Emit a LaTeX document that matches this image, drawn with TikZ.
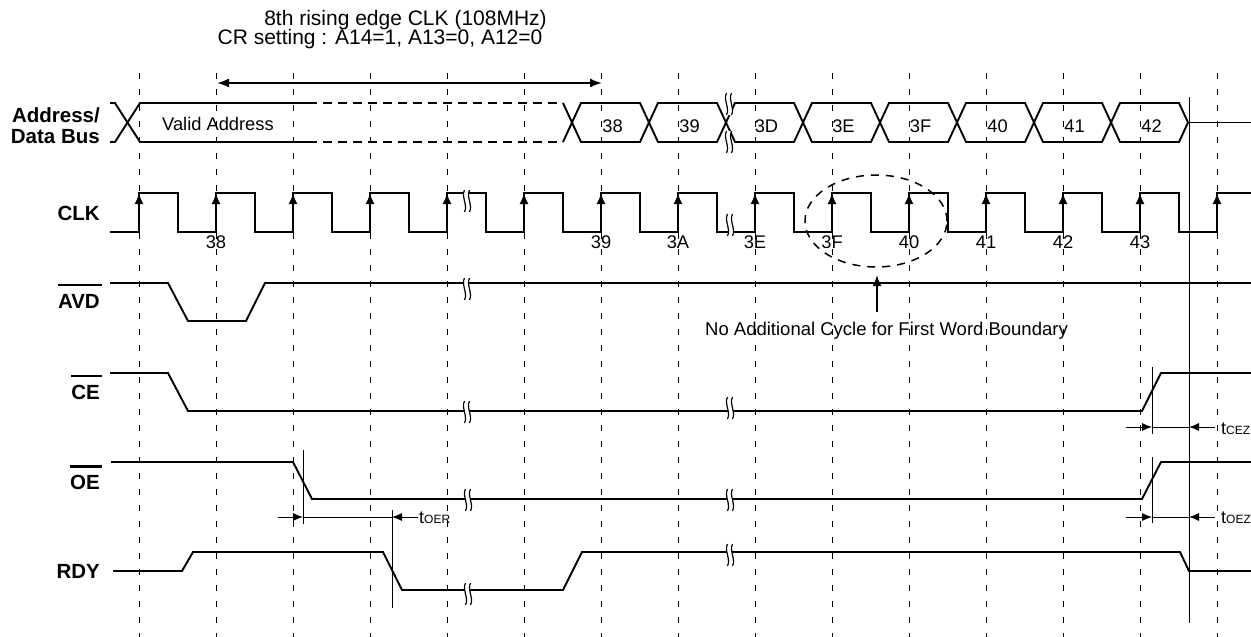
\documentclass[tikz,border=0pt]{standalone}
\usepackage{fontspec}
\setmainfont{Liberation Sans}
\usetikzlibrary{arrows.meta}
\tikzset{
  wave/.style={line width=1.9pt, line join=miter},
  gridln/.style={line width=0.9pt, dash pattern=on 6pt off 10pt},
  thinln/.style={line width=0.9pt},
  lbl/.style={font=\fontsize{20.5}{22}\selectfont\bfseries, inner sep=0pt, anchor=base east},
  val/.style={font=\fontsize{18.3}{20}\selectfont, inner sep=0pt, anchor=base},
  ttl/.style={font=\fontsize{21}{22}\selectfont, inner sep=0pt, anchor=base},
  tlab/.style={inner sep=0pt, anchor=base west},
  ovl/.style={line width=2.2pt},
  ltip/.style={-{Latex[length=10pt,width=8pt]}},
  rtip/.style={{Latex[length=10pt,width=8pt]}-},
  brk/.pic={
    \fill[white] (-2.5,-11) .. controls (-6,-4) and (1,4) .. (-2.5,11) -- (2.5,11) .. controls (6,4) and (-1,-4) .. (2.5,-11) -- cycle;
    \draw[line width=1.2pt] (-2.5,-11) .. controls (-6,-4) and (1,4) .. (-2.5,11);
    \draw[line width=1.2pt] (2.5,-11) .. controls (-1,-4) and (6,4) .. (2.5,11);
  }
}
\newcommand{\tsub}[2]{{\fontsize{18}{18}\selectfont #1}{\fontsize{12}{12}\selectfont #2}}
\begin{document}
\begin{tikzpicture}[x=1pt,y=-1pt]
\useasboundingbox (0,0) rectangle (1251,637);

% grid
\foreach \i in {0,...,14} \draw[gridln] ({139+77*\i},73) -- ({139+77*\i},637);

% title
\node[ttl] (t1) at (405.5,25) {8th rising edge CLK (108MHz)};
\node[ttl] (t2) at (380,45) {CR setting : A14=1, A13=0, A12=0};
\draw[wave, {Latex[length=12pt,width=9pt]}-{Latex[length=12pt,width=9pt]}] (217,83) -- (602,83);

% signal labels
\node[lbl] (ad1) at (100,122) {Address/};
\node[lbl] (ad2) at (100,143) {Data Bus};
\node[lbl] (clk) at (100,220) {CLK};
\node[lbl] (avd) at (100,308) {AVD};
\node[lbl] (ce) at (100,399) {CE};
\node[lbl] (oe) at (100,489) {OE};
\node[lbl] (rdy) at (100,578) {RDY};
\draw[ovl] ([yshift=8.3pt]avd.north west) -- ([yshift=8.3pt,xshift=2pt]avd.north east);
\draw[ovl] ([yshift=8.3pt]ce.north west) -- ([yshift=8.3pt,xshift=2pt]ce.north east);
\draw[ovl] ([yshift=8pt]oe.north west) -- ([yshift=8pt,xshift=2pt]oe.north east);

% bus
\draw[wave] (110,103) -- (115,103) -- (127.5,122.5) -- (140,142) -- (308,142);
\draw[wave] (110,142) -- (115,142) -- (127.5,122.5) -- (140,103) -- (308,103);
\draw[wave, dash pattern=on 9pt off 6pt] (308,103) -- (563,103);
\draw[wave, dash pattern=on 9pt off 6pt] (308,142) -- (563,142);
\draw[wave] (563,103) -- (572,122.5) -- (563,142);
\node[val, anchor=base west] (va) at (162,130) {Valid Address};
\foreach \k/\t in {0/38,1/39,2/3D,3/3E,4/3F,5/40,6/41,7/42} {
  \pgfmathsetmacro\ca{572+77*\k}
  \pgfmathsetmacro\cb{649+77*\k}
  \draw[wave] (\ca,122.5) -- ({\ca+9},103) -- ({\cb-9},103) -- (\cb,122.5) -- ({\cb-9},142) -- ({\ca+9},142) -- cycle;
  \node[val] (b\t) at ({\ca+40.5},132) {\t};
}
\draw[wave] (1188,122.5) -- (1251,122.5);
\pic at (729,104) {brk};
\pic at (729,142) {brk};

% CLK
\draw[wave] (110,232) foreach \i in {0,...,13} { -- ({139+77*\i},232) -- ({139+77*\i},193) -- ({178+77*\i},193) -- ({178+77*\i},232) } -- (1217,232) -- (1217,193) -- (1251,193);
\foreach \i in {0,...,14} \draw[wave, -{Latex[length=11pt,width=9pt]}] ({139+77*\i},214) -- ({139+77*\i},193);
\foreach \i/\t in {1/38,6/39,7/3A,8/3E,9/3F,10/40,11/41,12/42,13/43} \node[val] (c\t) at ({139+77*\i},248) {\t};
\pic at (467,201) {brk};
\pic at (730,225) {brk};

% circle + note
\draw[line width=1.5pt, dash pattern=on 8pt off 7pt] (876,221) ellipse [x radius=71pt, y radius=46pt];
\draw[wave, -{Latex[length=11pt,width=9pt]}] (877,312) -- (877,275);
\node[val, anchor=base west, font=\fontsize{18.5}{20}\selectfont] (note) at (705,335) {No Additional Cycle for First Word Boundary};

% AVD
\draw[wave] (110,283) -- (168,283) -- (188,321) -- (246,321) -- (265,283) -- (1251,283);
\pic at (467,289) {brk};

% CE
\draw[wave] (110,373) -- (168,373) -- (188,411) -- (1142,411) -- (1161,373) -- (1251,373);
\pic at (467,412) {brk};
\pic at (730,408) {brk};

% OE
\draw[wave] (111,462) -- (293,462) -- (312,499) -- (1142,499) -- (1161,462) -- (1251,462);
\pic at (468,500) {brk};
\pic at (730,500) {brk};

% RDY
\draw[wave] (113,571) -- (182,571) -- (193,552) -- (383,552) -- (402,590) -- (563,590) -- (582,552) -- (1180,552) -- (1189,571) -- (1251,571);
\pic at (468,594) {brk};
\pic at (730,555) {brk};

% timing lines
\draw[thinln] (1189,97) -- (1189,623);
\draw[thinln] (303,450) -- (303,524);
\draw[thinln] (392,510) -- (392,608);
\draw[thinln, ltip] (278,517) -- (303,517);
\draw[thinln] (303,517) -- (392,517);
\draw[thinln, rtip] (392,517) -- (418,517);
\node[tlab] (toer) at (419,523) {\tsub{t}{OER}};

\draw[thinln] (1152,367) -- (1152,434);
\draw[thinln, ltip] (1126,427) -- (1152,427);
\draw[thinln] (1152,427) -- (1189,427);
\draw[thinln, rtip] (1189,427) -- (1215,427);
\node[tlab] (tcez) at (1221,434) {\tsub{t}{CEZ}};

\draw[thinln] (1152,457) -- (1152,523);
\draw[thinln, ltip] (1126,517) -- (1152,517);
\draw[thinln] (1152,517) -- (1189,517);
\draw[thinln, rtip] (1189,517) -- (1215,517);
\node[tlab] (toez) at (1221,523) {\tsub{t}{OEZ}};
\end{tikzpicture}
\end{document}
